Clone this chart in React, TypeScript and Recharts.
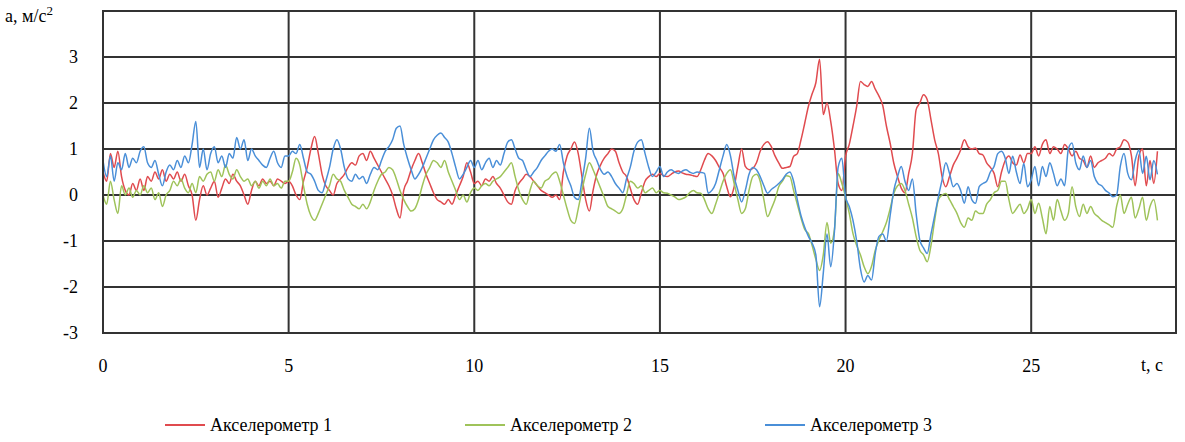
import { LineChart, Line, XAxis, YAxis, CartesianGrid, ReferenceArea } from "recharts";

const FONT = "Liberation Serif";

// samples every 0.1 s, starting at t = 0
const STEP = 0.1;
const T_MAX = 28.9;

const X_TICKS = [0, 5, 10, 15, 20, 25];
const Y_TICKS = [-3, -2, -1, 0, 1, 2, 3, 4];

const acc1 = [
  0.5, 0.3, 0.9, 0.6, 0.95, 0.4, 0.1, 0.0, 0.25, 0.1,
  0.35, 0.1, 0.4, 0.3, 0.5, 0.35, 0.55, 0.3, 0.45, 0.35,
  0.5, 0.3, 0.45, 0.2, 0.0, -0.55, -0.1, 0.2, 0.0, 0.15,
  0.3, -0.05, 0.15, 0.35, 0.25, 0.45, 0.3, 0.2, 0.0, -0.2,
  0.1, 0.3, 0.2, 0.35, 0.25, 0.3, 0.2, 0.35, 0.3, 0.25,
  0.3, 0.2, 0.0, -0.1, 0.3, 0.6, 1.0, 1.27, 0.9, 0.45,
  0.2, 0.1, 0.0, 0.25, 0.35, 0.45, 0.6, 0.7, 0.65, 0.85,
  0.9, 0.75, 0.95, 0.8, 0.65, 0.5, 0.35, 0.2, 0.0, -0.3,
  -0.5, 0.1, 0.3, 0.55, 0.75, 0.9, 0.7, 0.45, 0.25, 0.05,
  -0.1, -0.15, -0.2, -0.1, -0.2, 0.0, 0.2, 0.4, 0.7, 0.5,
  0.25, 0.3, 0.2, 0.35, 0.3, 0.4, 0.25, 0.15, 0.0, -0.15,
  -0.2, 0.1, 0.25, 0.35, 0.45, 0.4, 0.3, 0.2, 0.1, 0.05,
  0.0, -0.05, 0.0, -0.1, 0.5, 0.85, 1.0, 1.15, 0.9, 0.4,
  -0.1, -0.35, 0.1, 0.45, 0.65, 0.8, 0.9, 1.0, 0.95, 0.7,
  0.5, 0.4, 0.15, -0.1, -0.2, 0.05, 0.3, 0.4, 0.45, 0.4,
  0.47, 0.42, 0.4, 0.45, 0.5, 0.52, 0.48, 0.45, 0.44, 0.42,
  0.4, 0.55, 0.76, 0.9, 0.85, 0.75, 0.6, 0.47, 0.18, -0.04,
  0.18, 0.62, 1.0, 0.62, 0.55, 0.58, 0.7, 0.95, 1.1, 1.16,
  1.05, 0.85, 0.7, 0.58, 0.6, 0.62, 0.84, 0.9, 1.2, 1.56,
  1.93, 2.2, 2.44, 2.95, 1.75, 2.0, 1.6, 1.0, 0.25, 0.1,
  0.84, 1.1, 1.5, 1.93, 2.47, 2.4, 2.36, 2.47, 2.3, 2.15,
  1.95, 1.5, 1.13, 0.69, 0.4, 0.15, 0.05, 0.47, 0.9, 1.85,
  2.0, 2.18, 2.07, 1.64, 1.2, 0.9, 0.4, 0.18, 0.4, 0.65,
  0.8, 0.98, 1.2, 1.05, 1.0, 1.02, 0.9, 0.87, 0.7, 0.6,
  0.47, 0.18, 0.5, 0.75, 0.85, 0.7, 0.65, 0.87, 0.7, 0.9,
  0.9, 1.05, 0.85, 1.1, 1.2, 0.9, 1.05, 1.0, 0.9, 1.1,
  1.0, 0.85, 0.95, 0.8, 0.75, 0.6, 0.85, 0.6, 0.7, 0.75,
  0.8, 0.9, 0.85, 1.0, 1.05, 1.2, 1.15, 0.85, 0.2, 0.85,
  1.0, 0.2, 0.75, 0.25, 0.95,
];

const acc2 = [
  0.0, -0.2, 0.3, -0.1, -0.4, 0.2, 0.0, 0.15, -0.05, 0.1,
  0.0, 0.2, 0.05, 0.15, -0.1, 0.05, -0.25, 0.0, 0.1, 0.3,
  0.2, 0.35, 0.15, 0.05, 0.25, 0.05, 0.4, 0.3, 0.45, 0.5,
  0.3, 0.55, 0.4, 0.65, 0.45, 0.35, 0.55, 0.4, 0.3, 0.35,
  0.2, 0.3, 0.15, 0.3, 0.2, 0.35, 0.2, 0.25, 0.15, 0.3,
  0.3, 0.5, 0.8, 0.65, 0.2, -0.2, -0.45, -0.55, -0.4, -0.2,
  0.0, 0.2, 0.45, 0.35, 0.3, 0.1, -0.05, -0.2, -0.25, -0.3,
  -0.2, -0.3, -0.15, 0.1, 0.3, 0.45, 0.5, 0.6, 0.55, 0.35,
  0.1, -0.1, -0.25, -0.35, -0.3, -0.1, 0.2, 0.45, 0.6, 0.75,
  0.7, 0.6, 0.75, 0.5, 0.3, 0.1, -0.1, 0.0, -0.15, 0.05,
  0.15, 0.1, 0.2, 0.25, 0.2, 0.3, 0.35, 0.4, 0.5, 0.6,
  0.7, 0.4, 0.1, -0.1, -0.2, 0.1, 0.3, 0.2, 0.15, 0.3,
  0.35, 0.45, 0.5, 0.3, 0.0, -0.3, -0.55, -0.62, -0.3, 0.1,
  0.45, 0.7, 0.55, 0.35, 0.15, -0.05, -0.25, -0.3, -0.35, -0.4,
  -0.3, 0.0, 0.3, 0.25, 0.15, 0.2, 0.05, 0.1, 0.15, 0.05,
  0.1, 0.05, 0.04, 0.0, -0.04, -0.1, -0.08, -0.04, 0.05, 0.1,
  0.05, 0.04, -0.1, -0.3, -0.4, -0.2, 0.05, 0.3, 0.47, 0.55,
  0.25, -0.1, -0.4, -0.3, 0.1, 0.4, 0.45, 0.3, -0.1, -0.47,
  -0.3, -0.1, 0.18, 0.3, 0.42, 0.4, 0.1, -0.2, -0.5, -0.75,
  -0.84, -1.1, -1.4, -1.64, -1.3, -0.6, -1.05, -0.75, 0.47, 0.25,
  -0.04, -0.4, -0.84, -1.1, -1.3, -1.56, -1.71, -1.55, -1.2, -0.98,
  -0.8, -0.6, -0.3, 0.04, 0.2, 0.25, 0.1, -0.2, -0.5, -0.9,
  -1.2, -1.3, -1.45, -1.1, -0.55, -0.1, 0.0, 0.03, -0.1, -0.25,
  -0.4, -0.6, -0.7, -0.5, -0.55, -0.35, -0.4, -0.4, -0.2, -0.1,
  0.05, 0.1, 0.3, 0.3, -0.1, -0.4, -0.3, -0.2, -0.4, -0.3,
  -0.1, -0.4, -0.18, -0.5, -0.84, -0.25, -0.55, -0.1, -0.35, -0.55,
  -0.4, 0.18, -0.25, -0.47, -0.2, -0.4, -0.25, -0.4, -0.47, -0.55,
  -0.6, -0.65, -0.7, -0.25, 0.0, -0.4, -0.2, -0.05, -0.5, -0.3,
  -0.05, -0.55, -0.25, -0.1, -0.55,
];

const acc3 = [
  0.75, 0.4, 0.85, 0.3, 0.7, 0.55, 0.9, 0.6, 0.8, 0.7,
  0.95, 1.05, 0.7, 0.6, 0.75, 0.45, 0.2, 0.5, 0.65, 0.55,
  0.75, 0.6, 0.85, 0.7, 1.1, 1.6, 0.6, 1.0, 0.55, 0.9,
  1.05, 0.7, 0.85, 0.6, 0.9, 0.8, 1.25, 1.0, 1.2, 0.75,
  1.0, 0.85, 0.75, 0.65, 0.6, 0.8, 0.95, 0.7, 0.6, 0.85,
  0.85, 0.95, 0.9, 1.1, 0.8, 0.5, 0.45, 0.3, 0.1, 0.05,
  0.3, 0.6, 1.0, 1.2, 1.0, 0.6, 0.35, 0.3, 0.45, 0.35,
  0.4, 0.25, 0.45, 0.6, 0.55, 0.75, 0.95, 1.05, 1.2, 1.45,
  1.5, 1.1, 0.8, 0.55, 0.35, 0.45, 0.6, 0.8, 1.0, 1.2,
  1.3, 1.35, 1.25, 1.15, 0.9, 0.6, 0.35, 0.45, 0.6, 0.75,
  0.6, 0.75, 0.55, 0.7, 0.8, 0.6, 0.75, 0.65, 0.9, 1.15,
  1.2, 1.0, 0.8, 0.75, 0.55, 0.4, 0.5, 0.6, 0.75, 0.85,
  0.95, 1.0, 0.95, 1.1, 0.7, 0.4, 0.2, -0.05, -0.1, 0.3,
  0.8, 1.45, 0.95, 0.75, 0.55, 0.45, 0.5, 0.4, 0.25, 0.15,
  0.05, 0.35, 0.6, 0.95, 1.15, 1.2, 0.9, 0.6, 0.4, 0.5,
  0.62, 0.4, 0.5, 0.55, 0.5, 0.47, 0.52, 0.55, 0.5, 0.47,
  0.5, 0.49, 0.47, 0.04, 0.1, 0.25, 0.55, 0.85, 1.1, 0.85,
  0.4, 0.1, -0.15, 0.1, 0.45, 0.6, 0.55, 0.4, 0.2, 0.04,
  0.12, 0.18, 0.25, 0.33, 0.45, 0.5, 0.3, -0.1, -0.45, -0.7,
  -0.9, -1.05, -1.3, -2.43, -1.7, -0.85, -1.56, -0.8, 0.6, 0.8,
  -0.04, -0.25, -0.55, -1.0, -1.6, -1.89, -1.75, -1.85, -1.27, -0.9,
  -0.85, -1.0, -0.45, 0.1, 0.4, 0.62, 0.3, 0.1, 0.35, -0.4,
  -0.98, -1.15, -1.27, -0.85, -0.45, -0.04, 0.33, 0.7, 0.47, 0.18,
  0.25, 0.1, -0.18, 0.18, -0.1, -0.18, 0.18, 0.25, 0.3, 0.5,
  0.62, 0.9, 0.95, 0.8, 0.47, 0.84, 0.5, 0.25, 0.69, 0.18,
  0.33, 0.62, 0.2, 0.62, 0.4, 0.7, 0.47, 0.2, 0.35, 0.2,
  1.0, 1.13, 0.7, 0.55, 0.85, 0.6, 0.75, 0.4, 0.25, 0.2,
  0.1, 0.04, -0.04, 0.0, 0.62, 0.9, 0.47, 0.33, 0.75, 0.98,
  0.47, 0.84, 0.33, 0.75, 0.45,
];

const SERIES = [
  { key: "acc1", name: "Акселерометр 1", color: "#e04b4f" },
  { key: "acc2", name: "Акселерометр 2", color: "#9fc35a" },
  { key: "acc3", name: "Акселерометр 3", color: "#4a8fd8" },
];

const data = acc1.map((v, i) => ({
  t: +(i * STEP).toFixed(1),
  acc1: v,
  acc2: acc2[i],
  acc3: acc3[i],
}));

const tickStyle = { fill: "#000", fontSize: 18, fontFamily: FONT };

export default function App() {
  return (
    <div
      style={{
        position: "absolute",
        left: 0,
        top: 0,
        width: 1185,
        height: 442,
        background: "#fff",
        fontFamily: FONT,
        color: "#000",
      }}
    >
      <LineChart
        width={1185}
        height={442}
        data={data}
        margin={{ top: 11, right: 9, bottom: 79, left: 0 }}
      >
        <CartesianGrid stroke="#333" strokeWidth={2} />
        <XAxis
          dataKey="t"
          type="number"
          domain={[0, T_MAX]}
          ticks={X_TICKS}
          interval={0}
          height={30}
          tickLine={false}
          tickSize={0}
          tickMargin={26}
          axisLine={{ stroke: "#333", strokeWidth: 2 }}
          tick={tickStyle}
        />
        <YAxis
          type="number"
          domain={[-3, 4]}
          ticks={Y_TICKS}
          interval={0}
          width={103}
          tickLine={false}
          tickSize={0}
          tickMargin={25}
          tickFormatter={(v: number) => (v === 4 ? "" : String(v))}
          axisLine={{ stroke: "#333", strokeWidth: 2 }}
          tick={tickStyle}
        />
        <ReferenceArea
          x1={0}
          x2={T_MAX}
          y1={-3}
          y2={4}
          fill="none"
          stroke="#333"
          strokeWidth={2}
        />
        {SERIES.map((s) => (
          <Line
            key={s.key}
            type="monotone"
            dataKey={s.key}
            name={s.name}
            stroke={s.color}
            strokeWidth={1.5}
            dot={false}
            isAnimationActive={false}
          />
        ))}
      </LineChart>

      {/* axis titles */}
      <div style={{ position: "absolute", left: 5, top: 6, fontSize: 18, lineHeight: "20px" }}>
        a, м/с<sup style={{ fontSize: 13, lineHeight: 0 }}>2</sup>
      </div>
      <div style={{ position: "absolute", left: 1141, top: 355, fontSize: 18, lineHeight: "20px" }}>
        t, c
      </div>

      {/* legend */}
      <div style={{ position: "absolute", left: 165, top: 414, display: "flex", fontSize: 18, lineHeight: "22px" }}>
        {SERIES.map((s) => (
          <div key={s.key} style={{ width: 300, display: "flex", alignItems: "center" }}>
            <span style={{ width: 40, height: 2, background: s.color, marginRight: 5 }} />
            <span>{s.name}</span>
          </div>
        ))}
      </div>
    </div>
  );
}
